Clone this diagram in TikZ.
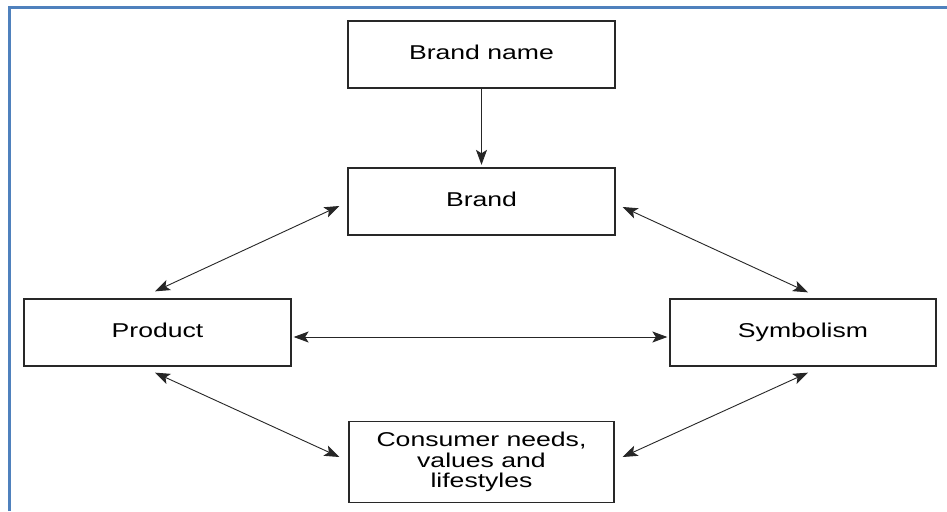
\documentclass[tikz,border=0pt]{standalone}
\usepackage{fontspec}
\newfontfamily\labfont[FakeStretch=1.33]{Liberation Sans}
\usetikzlibrary{arrows.meta}
\definecolor{frameblue}{RGB}{79,129,189}
\definecolor{boxline}{RGB}{40,40,40}
\begin{document}
\begin{tikzpicture}[x=1pt,y=-1pt,
  box/.style={draw=boxline,line width=1.3pt,fill=white,minimum width=#1,minimum height=67pt,
    inner sep=0pt,align=center,font=\labfont\fontsize{20}{20.5}\selectfont},
  box/.default=267pt,
  single/.style={text height=14.5pt,text depth=4pt},
  tip/.style={Stealth[length=15pt,width=11pt,inset=3.5pt]},
  link/.style={line width=0.9pt,draw=black!85,{Stealth[length=15pt,width=11pt,inset=3.5pt]}-{Stealth[length=15pt,width=11pt,inset=3.5pt]}},
  onelink/.style={line width=0.9pt,draw=black!85,-{Stealth[length=15pt,width=11pt,inset=3.5pt]}}
]
\useasboundingbox (0,0) rectangle (947,511);
\fill[white] (0,0) rectangle (947,511);
% frame
\draw[frameblue,line width=3pt] (9,511) -- (9,8) -- (947,8);
% nodes
\node[box,single] (bn) at (481.5,54.5) {Brand name};
\node[box,single] (br) at (481.5,201.5) {Brand};
\node[box,single] (pr) at (157.5,332.5) {Product};
\node[box=266pt,single] (sy) at (803,332.5) {Symbolism};
\node[box=265pt,minimum height=81pt] (cn) at (481.5,462) {Consumer needs,\\values and\\lifestyles};
% connectors
\draw[onelink,shorten >=2.5pt] (bn.south) -- (br.north);
\draw[link] ([xshift=-8pt,yshift=-4.5pt]br.west) -- ([xshift=-2.5pt,yshift=7pt]pr.north);
\draw[link] ([xshift=7pt,yshift=-5.5pt]br.east) -- ([xshift=5pt,yshift=6pt]sy.north);
\draw[link] ([xshift=2pt,yshift=-4.5pt]pr.east) -- ([xshift=-2pt,yshift=-4.5pt]sy.west);
\draw[link] ([xshift=-2.5pt,yshift=-6pt]pr.south) -- ([xshift=-9pt,yshift=5pt]cn.west);
\draw[link] ([xshift=8pt,yshift=5pt]cn.east) -- ([xshift=5pt,yshift=-6pt]sy.south);
\end{tikzpicture}
\end{document}
